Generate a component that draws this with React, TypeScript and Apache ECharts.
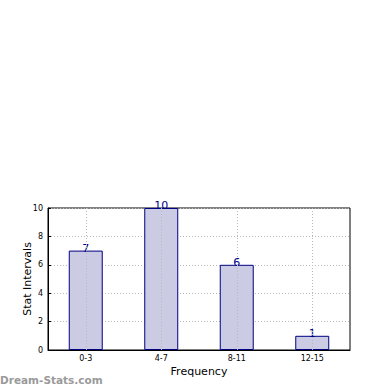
import React, { useEffect, useRef } from "react";
import * as echarts from "echarts";

const categories = ["0-3", "4-7", "8-11", "12-15"];
const values = [7, 10, 6, 1];
const yTicks = { min: 0, max: 10, interval: 2 };

export default function App() {
  const ref = useRef<HTMLDivElement>(null);
  useEffect(() => {
    const chart = echarts.init(ref.current!, null, { renderer: "svg" });
    const font = "DejaVu Sans";
    const gridLine = { color: "#b8b8b8", type: [1, 2], width: 1 };
    chart.setOption({
      animation: false,
      backgroundColor: "#ffffff",
      textStyle: { fontFamily: font },
      grid: {
        left: 48,
        top: 208,
        width: 302,
        height: 142,
        show: true,
        borderColor: "#000000",
        borderWidth: 1,
        backgroundColor: "transparent",
      },
      xAxis: {
        type: "category",
        data: categories,
        name: "Frequency",
        nameLocation: "middle",
        nameGap: 16,
        nameMoveOverlap: false,
        nameTextStyle: { fontSize: 11, color: "#000", fontFamily: font },
        axisLine: { show: true, lineStyle: { color: "#000", width: 1 } },
        axisTick: { show: true, inside: true, alignWithLabel: true, length: 3, lineStyle: { color: "#000" } },
        axisLabel: { fontSize: 8, color: "#000", margin: 4, fontFamily: font },
        splitLine: { show: false },
      },
      yAxis: {
        type: "value",
        min: yTicks.min,
        max: yTicks.max,
        interval: yTicks.interval,
        name: "Stat Intervals",
        nameLocation: "middle",
        nameGap: 15,
        nameMoveOverlap: false,
        nameTextStyle: { fontSize: 11, color: "#000", fontFamily: font },
        axisLine: { show: true, lineStyle: { color: "#000", width: 1 } },
        axisTick: { show: true, inside: true, length: 3, lineStyle: { color: "#000" } },
        axisLabel: { fontSize: 8, color: "#000", margin: 5, fontFamily: font },
        splitLine: { show: true, lineStyle: gridLine },
      },
      series: [
        {
          type: "bar",
          data: values,
          barWidth: "45%",
          z: 2,
          itemStyle: { color: "#cbcbe3", borderColor: "#000080", borderWidth: 1 },
          label: {
            show: true,
            position: "top",
            distance: -3,
            fontSize: 11,
            color: "#00008b",
            fontFamily: font,
          },
          markLine: {
            silent: true,
            symbol: "none",
            label: { show: false },
            z: 3,
            lineStyle: gridLine,
            data: categories.map((c) => ({ xAxis: c })),
          },
        },
      ],
      graphic: [
        {
          type: "text",
          left: 0,
          top: 374,
          style: {
            text: "Dream-Stats.com",
            font: "bold 10.5px DejaVu Sans",
            fill: "#9a9a9a",
          },
        },
      ],
    });
    return () => chart.dispose();
  }, []);
  return (
    <div
      ref={ref}
      style={{ position: "absolute", left: 0, top: 0, width: 390, height: 390 }}
    />
  );
}
